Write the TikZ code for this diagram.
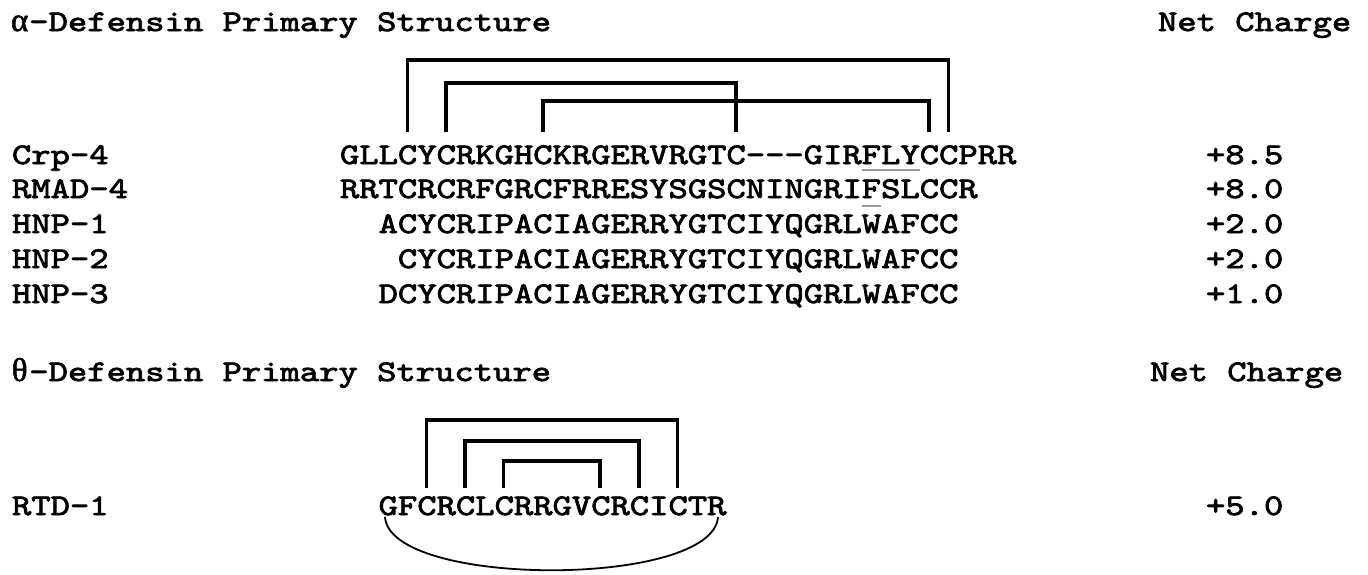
\documentclass[tikz,border=0pt]{standalone}
\usepackage{fontspec}
\newfontfamily\cour{lmmono10-regular.otf}[FakeStretch=1.227, FakeBold=2.6]
\newfontfamily\grk{Liberation Serif}[FakeBold=1.8]
\begin{document}
\begin{tikzpicture}[x=1pt,y=-1pt,
  txt/.style={font=\cour\fontsize{30}{36}\selectfont, anchor=base west, inner sep=0pt, outer sep=0pt},
  bond/.style={line width=3.6pt, line cap=butt, line join=miter},
  ul/.style={line width=1.8pt, black!40},
  ring/.style={line width=1.8pt}]
\useasboundingbox (0,0) rectangle (1368,574);
\def\cw{19.32}
\newcommand\gch[1]{\makebox[19.32pt][c]{\grk\fontsize{33}{36}\selectfont #1}}
% alpha section
\node[txt] (tA) at (10,31) {\gch{α}-Defensin Primary Structure};
\node[txt] (ncA) at (1158,31) {Net Charge};
\node[txt] (n1) at (12,164) {Crp-4};
\node[txt] (n2) at (12,198) {RMAD-4};
\node[txt] (n3) at (12,233) {HNP-1};
\node[txt] (n4) at (12,268) {HNP-2};
\node[txt] (n5) at (12,303) {HNP-3};
\node[txt] (s1) at (340,164) {GLLCYCRKGHCKRGERVRGTC---GIRFLYCCPRR};
\node[txt] (s2) at (340,198) {RRTCRCRFGRCFRRESYSGSCNINGRIFSLCCR};
\node[txt] (s3) at ({340+2*\cw},233) {ACYCRIPACIAGERRYGTCIYQGRLWAFCC};
\node[txt] (s4) at ({340+3*\cw},268) {CYCRIPACIAGERRYGTCIYQGRLWAFCC};
\node[txt] (s5) at ({340+2*\cw},303) {DCYCRIPACIAGERRYGTCIYQGRLWAFCC};
\node[txt] (q1) at (1206,164) {+8.5};
\node[txt] (q2) at (1206,198) {+8.0};
\node[txt] (q3) at (1206,233) {+2.0};
\node[txt] (q4) at (1206,268) {+2.0};
\node[txt] (q5) at (1206,303) {+1.0};
% cysteine anchors (Crp-4)
\coordinate (a3)  at ({340+3.5*\cw},132);
\coordinate (a5)  at ({340+5.5*\cw},132);
\coordinate (a10) at ({340+10.5*\cw},132);
\coordinate (a20) at ({340+20.5*\cw},132);
\coordinate (a30) at ({340+30.5*\cw},132);
\coordinate (a31) at ({340+31.5*\cw},132);
\draw[bond] (a3) -- (a3 |- 0,60) -| (a31);
\draw[bond] (a5) -- (a5 |- 0,83) -| (a20);
\draw[bond] (a10) -- (a10 |- 0,101) -| (a30);
% underlines
\coordinate (u1a) at ({340+27*\cw},170);
\coordinate (u1b) at ({340+30*\cw},170);
\coordinate (u2a) at ({340+27*\cw},206);
\coordinate (u2b) at ({340+28*\cw},206);
\draw[ul] (u1a) -- (u1b);
\draw[ul] (u2a) -- (u2b);
% theta section
\node[txt] (tT) at (10,381) {\gch{θ}-Defensin Primary Structure};
\node[txt] (ncT) at (1150,381) {Net Charge};
\node[txt] (n6) at (12,515) {RTD-1};
\node[txt] (s6) at ({340+2*\cw},515) {GFCRCLCRRGVCRCICTR};
\node[txt] (q6) at (1206,515) {+5.0};
\def\tx{378}
\coordinate (t2)  at ({\tx+2.5*\cw},488);
\coordinate (t4)  at ({\tx+4.5*\cw},488);
\coordinate (t6)  at ({\tx+6.5*\cw},488);
\coordinate (t11) at ({\tx+11.5*\cw},488);
\coordinate (t13) at ({\tx+13.5*\cw},488);
\coordinate (t15) at ({\tx+15.5*\cw},488);
\draw[bond] (t2) -- (t2 |- 0,420) -| (t15);
\draw[bond] (t4) -- (t4 |- 0,441) -| (t13);
\draw[bond] (t6) -- (t6 |- 0,461) -| (t11);
% cyclic backbone
\coordinate (rs) at (385,517);
\coordinate (re) at (718,517);
\draw[ring] (rs) .. controls (390,588) and (713,588) .. (re);
\end{tikzpicture}
\end{document}
